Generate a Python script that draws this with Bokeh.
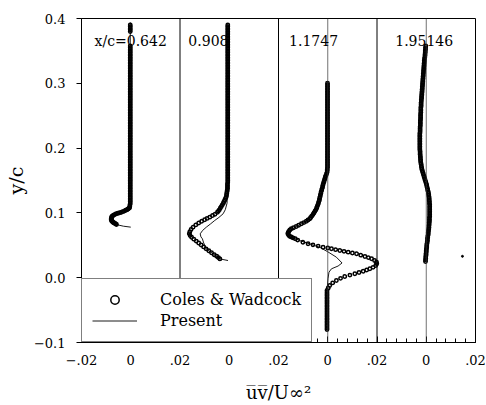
from bokeh.plotting import figure
from bokeh.models import (Range1d, FixedTicker, CustomJSTickFormatter, Span, Label,
                          Legend, LegendItem)
from bokeh.embed import file_html
from bokeh.resources import INLINE

# ---------------- data (x is u'v'/U^2 relative to each panel's own zero) ----------------
panel_names = ["x/c=0.642", "0.908", "1.1747", "1.95146"]

x_tick_labels = ["\u2212.02", "0", ".02", "0", ".02", "0", ".02", "0", ".02"]
y_tick_values = [-0.1, 0.0, 0.1, 0.2, 0.3, 0.4]
y_tick_labels = ["\u22120.1", "0.0", "0.1", "0.2", "0.3", "0.4"]

# ---- Coles & Wadcock (circles), panel 1: x/c = 0.642 ----
cw1_y = [0.3900, 0.3875, 0.3850, 0.3825, 0.3800,
         0.3575, 0.3550, 0.3525, 0.3500, 0.3475, 0.3450, 0.3425, 0.3400, 0.3375, 0.3350,
         0.3325, 0.3300, 0.3275, 0.3250, 0.3225, 0.3200, 0.3175, 0.3150, 0.3125, 0.3100,
         0.3075, 0.3050, 0.3025, 0.3000, 0.2975, 0.2950, 0.2925, 0.2900, 0.2875, 0.2850,
         0.2825, 0.2800, 0.2775, 0.2750, 0.2725, 0.2700, 0.2675, 0.2650, 0.2625, 0.2600,
         0.2575, 0.2550, 0.2525, 0.2500, 0.2475, 0.2450, 0.2425, 0.2400, 0.2375, 0.2350,
         0.2325, 0.2300, 0.2275, 0.2250, 0.2225, 0.2200, 0.2175, 0.2150, 0.2125, 0.2100,
         0.2075, 0.2050, 0.2025, 0.2000, 0.1975, 0.1950, 0.1925, 0.1900, 0.1875, 0.1850,
         0.1825, 0.1800, 0.1775, 0.1750, 0.1725, 0.1700, 0.1675, 0.1650, 0.1625, 0.1600,
         0.1575, 0.1550, 0.1525, 0.1500, 0.1475, 0.1450, 0.1425, 0.1400, 0.1375, 0.1350,
         0.1325, 0.1300, 0.1275, 0.1250, 0.1225, 0.1200, 0.1175, 0.1150, 0.1125, 0.1100,
         0.108, 0.107, 0.106, 0.105, 0.104, 0.103, 0.102, 0.101, 0.1003, 0.0995,
         0.0988, 0.098, 0.097, 0.096, 0.095, 0.094, 0.0925, 0.091, 0.0895, 0.088,
         0.0868, 0.0856, 0.0848, 0.084, 0.083, 0.082]
cw1_x = [-0.0002, -0.0002, -0.0002, -0.0002, -0.0002,
         -0.0002, -0.0002, -0.0002, -0.0002, -0.0002, -0.0002, -0.0002, -0.0002, -0.0002, -0.0002,
         -0.0002, -0.0002, -0.0002, -0.0002, -0.0002, -0.0002, -0.0002, -0.0002, -0.0002, -0.0002,
         -0.0002, -0.0002, -0.0002, -0.0002, -0.0002, -0.0002, -0.0002, -0.0002, -0.0002, -0.0002,
         -0.0002, -0.0002, -0.0002, -0.0002, -0.0002, -0.0002, -0.0002, -0.0002, -0.0002, -0.0002,
         -0.0002, -0.0002, -0.0002, -0.0002, -0.0002, -0.0002, -0.0002, -0.0002, -0.0002, -0.0002,
         -0.0002, -0.0002, -0.0002, -0.0002, -0.0002, -0.0002, -0.0002, -0.0002, -0.0002, -0.0002,
         -0.0002, -0.0002, -0.0002, -0.0002, -0.0002, -0.0002, -0.0002, -0.0002, -0.0002, -0.0002,
         -0.0002, -0.0002, -0.0002, -0.0002, -0.0002, -0.0002, -0.0002, -0.0002, -0.0002, -0.0002,
         -0.0002, -0.0002, -0.0002, -0.0002, -0.0002, -0.0002, -0.0002, -0.0002, -0.0002, -0.0002,
         -0.0002, -0.0002, -0.0002, -0.0002, -0.0002, -0.0002, -0.0002, -0.0002, -0.0003, -0.0004,
         -0.0005, -0.0007, -0.0011, -0.0015, -0.0020, -0.0026, -0.0032, -0.0038, -0.0045, -0.0052,
         -0.0058, -0.0063, -0.0068, -0.0072, -0.0075, -0.0077, -0.0078, -0.0079, -0.0079, -0.0078,
         -0.0075, -0.0072, -0.0069, -0.0065, -0.0061, -0.0058]

# ---- panel 2: x/c = 0.908 ----
cw2_y = [0.3900, 0.3875, 0.3850, 0.3825, 0.3800, 0.3775, 0.3750, 0.3725, 0.3700, 0.3675,
         0.3650, 0.3625, 0.3600, 0.3575, 0.3550, 0.3525, 0.3500, 0.3475, 0.3450, 0.3425,
         0.3400, 0.3375, 0.3350, 0.3325, 0.3300, 0.3275, 0.3250, 0.3225, 0.3200, 0.3175,
         0.3150, 0.3125, 0.3100, 0.3075, 0.3050, 0.3025, 0.3000, 0.2975, 0.2950, 0.2925,
         0.2900, 0.2875, 0.2850, 0.2825, 0.2800, 0.2775, 0.2750, 0.2725, 0.2700, 0.2675,
         0.2650, 0.2625, 0.2600, 0.2575, 0.2550, 0.2525, 0.2500, 0.2475, 0.2450, 0.2425,
         0.2400, 0.2375, 0.2350, 0.2325, 0.2300, 0.2275, 0.2250, 0.2225, 0.2200, 0.2175,
         0.2150, 0.2125, 0.2100, 0.2075, 0.2050, 0.2025, 0.2000, 0.1975, 0.1950, 0.1925,
         0.1900, 0.1875, 0.1850, 0.1825, 0.1800, 0.1775, 0.1750, 0.1725, 0.1700, 0.1675,
         0.1650, 0.1625, 0.1600, 0.1575, 0.1550, 0.1525, 0.1500, 0.1475, 0.1450, 0.1425,
         0.1400,
         0.1375, 0.1350, 0.1325, 0.1300, 0.1275, 0.1250, 0.1225, 0.1200, 0.1175, 0.1150,
         0.1125, 0.1100, 0.1075, 0.1050, 0.103, 0.101, 0.098, 0.096, 0.0934, 0.0915,
         0.0895, 0.087, 0.0845, 0.0815, 0.078, 0.0745, 0.071, 0.068, 0.065, 0.0625,
         0.0595, 0.0565, 0.0535, 0.0505, 0.0475, 0.0445, 0.0415, 0.0385, 0.0355, 0.033,
         0.031, 0.029]
cw2_x = [-0.0006, -0.0006, -0.0006, -0.0006, -0.0006, -0.0006, -0.0006, -0.0006, -0.0006, -0.0006,
         -0.0006, -0.0006, -0.0006, -0.0006, -0.0006, -0.0006, -0.0006, -0.0006, -0.0006, -0.0006,
         -0.0006, -0.0006, -0.0006, -0.0006, -0.0006, -0.0006, -0.0006, -0.0006, -0.0006, -0.0006,
         -0.0006, -0.0006, -0.0006, -0.0006, -0.0006, -0.0006, -0.0006, -0.0006, -0.0006, -0.0006,
         -0.0006, -0.0006, -0.0006, -0.0006, -0.0006, -0.0006, -0.0006, -0.0006, -0.0006, -0.0006,
         -0.0006, -0.0006, -0.0006, -0.0006, -0.0006, -0.0006, -0.0006, -0.0006, -0.0006, -0.0006,
         -0.0006, -0.0006, -0.0006, -0.0006, -0.0006, -0.0006, -0.0006, -0.0006, -0.0006, -0.0006,
         -0.0006, -0.0006, -0.0006, -0.0006, -0.0006, -0.0006, -0.0006, -0.0006, -0.0006, -0.0006,
         -0.0006, -0.0006, -0.0006, -0.0006, -0.0006, -0.0006, -0.0006, -0.0006, -0.0006, -0.0006,
         -0.0006, -0.0006, -0.0006, -0.0006, -0.0006, -0.0006, -0.0006, -0.0006, -0.0007, -0.0007,
         -0.0007,
         -0.0007, -0.0008, -0.0009, -0.0010, -0.0011, -0.0012, -0.0015, -0.0018, -0.0021, -0.0024,
         -0.0028, -0.0032, -0.0036, -0.0040, -0.0044, -0.0048, -0.0058, -0.0068, -0.0079, -0.0090,
         -0.0100, -0.0112, -0.0124, -0.0136, -0.0147, -0.0155, -0.0160, -0.0162, -0.0159, -0.0153,
         -0.0144, -0.0134, -0.0124, -0.0114, -0.0104, -0.0094, -0.0083, -0.0072, -0.0061, -0.0051,
         -0.0044, -0.0038]

# ---- panel 3: x/c = 1.1747 ----
cw3_y = [0.3000, 0.2975, 0.2950, 0.2925, 0.2900, 0.2875, 0.2850, 0.2825, 0.2800, 0.2775,
         0.2750, 0.2725, 0.2700, 0.2675, 0.2650, 0.2625, 0.2600, 0.2575, 0.2550, 0.2525,
         0.2500, 0.2475, 0.2450, 0.2425, 0.2400, 0.2375, 0.2350, 0.2325, 0.2300, 0.2275,
         0.2250, 0.2225, 0.2200, 0.2175, 0.2150, 0.2125, 0.2100, 0.2075, 0.2050, 0.2025,
         0.2000, 0.1975, 0.1950, 0.1925, 0.1900, 0.1875, 0.1850, 0.1825, 0.1800, 0.1775,
         0.1750, 0.1725, 0.1700, 0.1675, 0.1650, 0.1625,
         0.1600, 0.1575, 0.1550, 0.1525, 0.1500, 0.1475, 0.1450, 0.1425, 0.1400, 0.1375,
         0.1350, 0.1325, 0.1300, 0.1275, 0.1250, 0.1225, 0.1200, 0.1175, 0.1150, 0.1125,
         0.1100, 0.1075, 0.1050, 0.1025, 0.1000,
         0.0975, 0.095, 0.093, 0.091, 0.089, 0.087, 0.085, 0.0832, 0.081, 0.079,
         0.077, 0.0755, 0.0735, 0.0715, 0.0695, 0.0677, 0.066, 0.064, 0.0628, 0.0615,
         0.060, 0.058,
         0.0548, 0.0525, 0.0507, 0.0488, 0.047, 0.0458, 0.0446, 0.0433, 0.042, 0.0407,
         0.0394, 0.0382, 0.0369, 0.0348, 0.0327, 0.031, 0.0292, 0.0265, 0.024, 0.0215,
         0.0188, 0.016, 0.0137, 0.0118, 0.010, 0.008, 0.006, 0.004, 0.0019, -0.001,
         -0.0043, -0.008, -0.012, -0.016, -0.0198,
         -0.0225, -0.0250, -0.0275, -0.0300, -0.0325, -0.0350, -0.0375, -0.0400, -0.0425, -0.0450,
         -0.0475, -0.0500, -0.0525, -0.0550, -0.0575, -0.0600, -0.0625, -0.0650, -0.0675, -0.0700,
         -0.0725, -0.0750, -0.0775, -0.0800]
cw3_x = [-0.0001, -0.0001, -0.0001, -0.0001, -0.0001, -0.0001, -0.0001, -0.0001, -0.0001, -0.0001,
         -0.0001, -0.0001, -0.0001, -0.0001, -0.0001, -0.0001, -0.0001, -0.0001, -0.0001, -0.0001,
         -0.0001, -0.0001, -0.0001, -0.0001, -0.0001, -0.0001, -0.0001, -0.0001, -0.0001, -0.0001,
         -0.0001, -0.0001, -0.0001, -0.0001, -0.0001, -0.0001, -0.0001, -0.0001, -0.0001, -0.0001,
         -0.0001, -0.0001, -0.0001, -0.0001, -0.0001, -0.0001, -0.0001, -0.0001, -0.0001, -0.0001,
         -0.0001, -0.0001, -0.0001, -0.0002, -0.0002, -0.0003,
         -0.0005, -0.0008, -0.0010, -0.0012, -0.0014, -0.0016, -0.0018, -0.0020, -0.0021, -0.0023,
         -0.0025, -0.0027, -0.0028, -0.0030, -0.0031, -0.0033, -0.0034, -0.0036, -0.0038, -0.0040,
         -0.0043, -0.0045, -0.0048, -0.0052, -0.0056,
         -0.0060, -0.0065, -0.0069, -0.0073, -0.0080, -0.0087, -0.0097, -0.0107, -0.0118, -0.0128,
         -0.0139, -0.0148, -0.0154, -0.0158, -0.0161, -0.0162, -0.0159, -0.0155, -0.0148, -0.0141,
         -0.0132, -0.0122,
         -0.0101, -0.0080, -0.0060, -0.0039, -0.0019, 0.0000, 0.0015, 0.0032, 0.0049, 0.0066,
         0.0083, 0.0100, 0.0117, 0.0134, 0.0151, 0.0165, 0.0178, 0.0190, 0.0198, 0.0199,
         0.0195, 0.0184, 0.0171, 0.0158, 0.0144, 0.0127, 0.0110, 0.0090, 0.0069, 0.0052,
         0.0035, 0.0020, 0.0008, 0.0002, -0.0003,
         -0.0003, -0.0003, -0.0003, -0.0003, -0.0003, -0.0003, -0.0003, -0.0003, -0.0003, -0.0003,
         -0.0003, -0.0003, -0.0003, -0.0003, -0.0003, -0.0003, -0.0003, -0.0003, -0.0003, -0.0003,
         -0.0003, -0.0003, -0.0003, -0.0003]

# ---- panel 4: x/c = 1.95146 ----
cw4_y = [0.3575, 0.3550, 0.3525, 0.3500, 0.3475, 0.3450, 0.3425, 0.3400, 0.3375, 0.3350,
         0.3325, 0.3300, 0.3275, 0.3250, 0.3225, 0.3200, 0.3175, 0.3150, 0.3125, 0.3100,
         0.3075, 0.3050, 0.3025, 0.3000, 0.2975, 0.2950, 0.2925, 0.2900, 0.2875, 0.2850,
         0.2825, 0.2800, 0.2775, 0.2750, 0.2725, 0.2700, 0.2675, 0.2650, 0.2625, 0.2600,
         0.2575, 0.2550, 0.2525, 0.2500, 0.2475, 0.2450, 0.2425, 0.2400, 0.2375, 0.2350,
         0.2325, 0.2300, 0.2275, 0.2250, 0.2225, 0.2200, 0.2175, 0.2150, 0.2125, 0.2100,
         0.2075, 0.2050, 0.2025, 0.2000, 0.1975, 0.1950, 0.1925, 0.1900, 0.1875, 0.1850,
         0.1825, 0.1800, 0.1775, 0.1750, 0.1725, 0.1700, 0.1675, 0.1650, 0.1625, 0.1600,
         0.1575, 0.1550, 0.1525, 0.1500, 0.1475, 0.1450, 0.1425, 0.1400, 0.1375, 0.1350,
         0.1325, 0.1300, 0.1275, 0.1250, 0.1225, 0.1200, 0.1175, 0.1150, 0.1125, 0.1100,
         0.1075, 0.1050, 0.1025, 0.1000, 0.0975, 0.0950, 0.0925, 0.0900, 0.0875, 0.0850,
         0.0825, 0.0800, 0.0775, 0.0750, 0.0725, 0.0700, 0.0675, 0.0650, 0.0625, 0.0600,
         0.0575, 0.0550, 0.0525, 0.0500, 0.0475, 0.0450, 0.0425, 0.0400, 0.0375, 0.0350,
         0.0325, 0.0300, 0.0275, 0.0250]
cw4_x = [-0.0002, -0.0003, -0.0003, -0.0004, -0.0004, -0.0005, -0.0005, -0.0006, -0.0007, -0.0008,
         -0.0008, -0.0009, -0.0009, -0.0010, -0.0010, -0.0011, -0.0011, -0.0012, -0.0012, -0.0013,
         -0.0013, -0.0014, -0.0014, -0.0015, -0.0015, -0.0016, -0.0016, -0.0017, -0.0017, -0.0018,
         -0.0018, -0.0019, -0.0019, -0.0020, -0.0020, -0.0021, -0.0021, -0.0021, -0.0022, -0.0022,
         -0.0022, -0.0022, -0.0023, -0.0023, -0.0023, -0.0023, -0.0024, -0.0024, -0.0024, -0.0024,
         -0.0025, -0.0025, -0.0025, -0.0025, -0.0026, -0.0026, -0.0026, -0.0026, -0.0026, -0.0026,
         -0.0026, -0.0026, -0.0026, -0.0026, -0.0026, -0.0025, -0.0025, -0.0025, -0.0024, -0.0024,
         -0.0023, -0.0023, -0.0022, -0.0021, -0.0020, -0.0019, -0.0018, -0.0016, -0.0014, -0.0012,
         -0.0010, -0.0008, -0.0006, -0.0004, -0.0002, 0.0000, 0.0002, 0.0003, 0.0005, 0.0006,
         0.0008, 0.0009, 0.0010, 0.0011, 0.0012, 0.0012, 0.0013, 0.0013, 0.0014, 0.0014,
         0.0014, 0.0014, 0.0014, 0.0014, 0.0014, 0.0014, 0.0013, 0.0013, 0.0013, 0.0012,
         0.0012, 0.0011, 0.0011, 0.0010, 0.0009, 0.0008, 0.0008, 0.0007, 0.0006, 0.0005,
         0.0005, 0.0004, 0.0003, 0.0002, 0.0002, 0.0001, 0.0000, 0.0000, -0.0001, -0.0001,
         -0.0002, -0.0002, -0.0003, -0.0003]

stray4_x = [0.0147]
stray4_y = [0.033]

# ---- Present (lines) ----
pr1_y = [0.394, 0.110, 0.106, 0.102, 0.098, 0.094, 0.090, 0.0856, 0.082, 0.0795, 0.078]
pr1_x = [-0.0002, -0.0002, -0.0007, -0.0030, -0.0060, -0.0075, -0.0079, -0.0072, -0.0058,
         -0.0030, 0.0000]

pr2_y = [0.392, 0.150, 0.135, 0.115, 0.105, 0.0986, 0.093, 0.0883, 0.083, 0.078, 0.073,
         0.0677, 0.063, 0.060, 0.055, 0.050, 0.045, 0.040, 0.035, 0.031, 0.029, 0.0265]
pr2_x = [-0.0006, -0.0006, -0.0007, -0.0009, -0.0016, -0.0025, -0.0042, -0.0059, -0.0076,
         -0.0093, -0.0108, -0.0118, -0.0115, -0.0109, -0.0105, -0.0100, -0.0094, -0.0077,
         -0.0058, -0.0044, -0.0038, -0.0005]

pr3_y = [0.302, 0.165, 0.150, 0.135, 0.120, 0.105, 0.095, 0.087, 0.079, 0.0715, 0.0677,
         0.0615, 0.0573, 0.052, 0.047, 0.040, 0.0317, 0.0227, 0.018, 0.0137, 0.0085,
         -0.0017, -0.020, -0.082]
pr3_x = [-0.0001, -0.0001, -0.0014, -0.0025, -0.0034, -0.0048, -0.0065, -0.0087, -0.0128,
         -0.0158, -0.0162, -0.0141, -0.0114, -0.0072, -0.0033, 0.0000, 0.0035, 0.0058,
         0.0042, 0.0015, 0.0005, 0.0001, -0.0003, -0.0003]

pr4_y = [0.358, 0.300, 0.240, 0.200, 0.175, 0.160, 0.145, 0.130, 0.110, 0.090, 0.070,
         0.050, 0.025]
pr4_x = [-0.0002, -0.0015, -0.0024, -0.0026, -0.0019, -0.0008, 0.0006, 0.0014, 0.0016,
         0.0014, 0.0009, 0.0002, -0.0003]

# ---------------- layout helpers ----------------
PANEL_WIDTH = 0.04            # each panel spans -.02 .. .02 of u'v'/U^2
offsets = [i * PANEL_WIDTH for i in range(4)]
x_ticks = [round(-0.02 + 0.02 * i, 4) for i in range(9)]
x_minor = [round(-0.02 + 0.004 * i, 4) for i in range(41)]
SERIF = "DejaVu Serif"

p = figure(width=486, height=405, x_range=Range1d(-0.02, 0.14), y_range=Range1d(-0.1, 0.4),
           output_backend="svg", toolbar_location=None,
           min_border_left=81, min_border_right=11, min_border_top=18, min_border_bottom=62,
           x_axis_label="u\u0305v\u0305/U\u221e\u00b2", y_axis_label="y/c")
p.xgrid.visible = False
p.ygrid.visible = False
p.outline_line_color = "black"
p.outline_line_width = 1
p.background_fill_color = "white"
p.border_fill_color = "white"

fmt_code = """
let b = 0;
for (let i = 0; i < tv.length; i++) {
  if (Math.abs(tv[i] - tick) < Math.abs(tv[b] - tick)) b = i;
}
return tl[b];
"""
xa = p.xaxis[0]
xa.ticker = FixedTicker(ticks=x_ticks, minor_ticks=x_minor)
xa.formatter = CustomJSTickFormatter(args=dict(tv=x_ticks, tl=x_tick_labels), code=fmt_code)
xa.major_tick_in = 6
xa.major_tick_out = 0
xa.minor_tick_in = 4
xa.minor_tick_out = 0
xa.major_label_standoff = 12
xa.axis_label_standoff = 14

ya = p.yaxis[0]
ya.ticker = FixedTicker(ticks=y_tick_values, minor_ticks=[])
ya.formatter = CustomJSTickFormatter(args=dict(tv=y_tick_values, tl=y_tick_labels), code=fmt_code)
ya.major_tick_in = 0
ya.major_tick_out = 5
ya.minor_tick_in = 0
ya.minor_tick_out = 0
ya.major_label_standoff = 11
ya.axis_label_standoff = 4

for ax in (xa, ya):
    ax.axis_line_color = "black"
    ax.major_tick_line_color = "black"
    ax.minor_tick_line_color = "black"
    ax.major_label_text_font = SERIF
    ax.major_label_text_font_size = "13px"
    ax.major_label_text_color = "black"
    ax.axis_label_text_font = SERIF
    ax.axis_label_text_font_style = "normal"
    ax.axis_label_text_color = "black"
xa.axis_label_text_font_size = "18px"
ya.axis_label_text_font_size = "19px"

# panel boundaries and zero lines
for b in (0.02, 0.06, 0.10):
    p.add_layout(Span(location=b, dimension="height", line_color="black", line_width=1))
for off in offsets[2:]:
    p.add_layout(Span(location=off, dimension="height", line_color="#333333", line_width=0.7))

cw_x = [cw1_x, cw2_x, cw3_x, cw4_x]
cw_y = [cw1_y, cw2_y, cw3_y, cw4_y]
pr_x = [pr1_x, pr2_x, pr3_x, pr4_x]
pr_y = [pr1_y, pr2_y, pr3_y, pr4_y]

circ_r = None
line_r = None
for i, off in enumerate(offsets):
    lr = p.line([v + off for v in pr_x[i]], pr_y[i], line_color="black", line_width=0.9)
    cr = p.scatter([v + off for v in cw_x[i]], cw_y[i], marker="circle", size=3.4,
                   fill_color=None, line_color="black", line_width=1.5)
    if i == 0:
        circ_r, line_r = cr, lr

p.scatter([v + offsets[3] for v in stray4_x], stray4_y, marker="circle", size=2,
          fill_color="black", line_color="black")

label_x = [-0.0147, -0.0166, -0.0157, -0.0126]
for i, off in enumerate(offsets):
    p.add_layout(Label(x=off + label_x[i], y=0.366, text=panel_names[i], text_font=SERIF,
                       text_font_size="14px", text_baseline="middle", text_align="left",
                       text_color="black"))

legend = Legend(items=[LegendItem(label="Coles & Wadcock", renderers=[circ_r]),
                       LegendItem(label="Present", renderers=[line_r])],
                location=(0, 0), orientation="vertical")
legend.label_text_font = SERIF
legend.label_text_font_size = "16px"
legend.label_text_color = "black"
legend.glyph_width = 45
legend.glyph_height = 21
legend.label_height = 21
legend.label_standoff = 23
legend.padding = 10
legend.spacing = 0
legend.margin = 0
legend.border_line_color = "black"
legend.border_line_width = 1
legend.background_fill_color = "white"
legend.background_fill_alpha = 1.0
p.add_layout(legend)

open("out.html", "w").write(file_html(p, INLINE))
